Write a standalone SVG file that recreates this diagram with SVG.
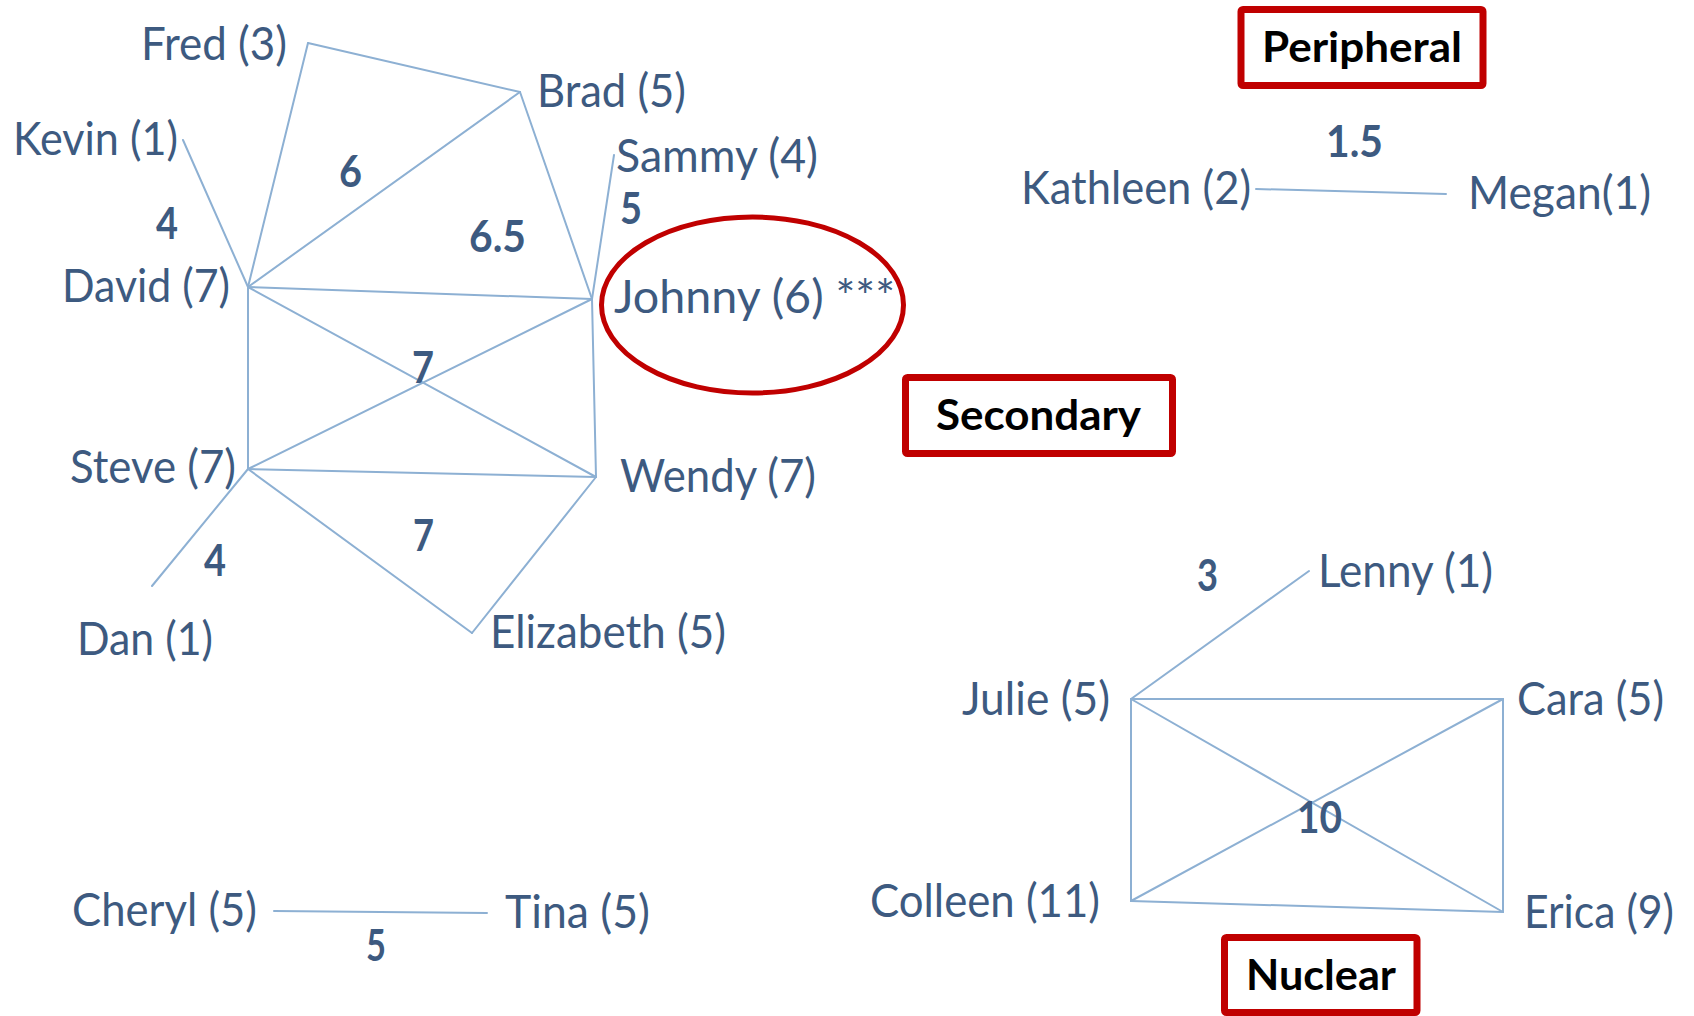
<svg xmlns="http://www.w3.org/2000/svg" width="1694" height="1016" viewBox="0 0 1694 1016">
<style>
  .bg{fill:#ffffff}
  .edge{stroke:#8DB0D3;stroke-width:2;fill:none;stroke-linecap:round}
  .name{font-family:Lato,"Open Sans","Liberation Sans",sans-serif;font-size:46px;fill:#3D5A80}
  .w{font-family:Lato,"Open Sans","Liberation Sans",sans-serif;font-size:43px;font-weight:bold;fill:#3D5A80}
  .tag{font-family:Lato,"Open Sans","Liberation Sans",sans-serif;font-size:42px;font-weight:bold;fill:#000000}
  .box{fill:none;stroke:#C00000;stroke-width:7}
  .ring{fill:none;stroke:#C00000;stroke-width:5}
</style>
<rect class="bg" x="0" y="0" width="1694" height="1016"/>

<g id="connectors">
  <line class="edge" x1="308" y1="43" x2="520" y2="92"/>
  <line class="edge" x1="308" y1="43" x2="248" y2="287"/>
  <line class="edge" x1="183" y1="140" x2="248" y2="287"/>
  <line class="edge" x1="248" y1="287" x2="520" y2="92"/>
  <line class="edge" x1="520" y1="92" x2="592" y2="299"/>
  <line class="edge" x1="614" y1="155" x2="592" y2="299"/>
  <line class="edge" x1="248" y1="287" x2="592" y2="299"/>
  <line class="edge" x1="248" y1="287" x2="596" y2="477"/>
  <line class="edge" x1="248" y1="287" x2="248" y2="469"/>
  <line class="edge" x1="592" y1="299" x2="248" y2="469"/>
  <line class="edge" x1="592" y1="299" x2="596" y2="477"/>
  <line class="edge" x1="248" y1="469" x2="596" y2="477"/>
  <line class="edge" x1="248" y1="469" x2="152" y2="586"/>
  <line class="edge" x1="248" y1="469" x2="472" y2="633"/>
  <line class="edge" x1="596" y1="477" x2="472" y2="633"/>
  <line class="edge" x1="274" y1="911" x2="487" y2="913"/>
  <line class="edge" x1="1256" y1="189" x2="1446" y2="194"/>
  <line class="edge" x1="1309" y1="571" x2="1131" y2="699"/>
  <line class="edge" x1="1131" y1="699" x2="1503" y2="699"/>
  <line class="edge" x1="1131" y1="699" x2="1131" y2="901"/>
  <line class="edge" x1="1131" y1="699" x2="1503" y2="912"/>
  <line class="edge" x1="1503" y1="699" x2="1131" y2="901"/>
  <line class="edge" x1="1503" y1="699" x2="1503" y2="912"/>
  <line class="edge" x1="1131" y1="901" x2="1503" y2="912"/>
</g>

<g id="weights">
  <text class="w" x="339" y="187" textLength="23" lengthAdjust="spacingAndGlyphs">6</text>
  <text class="w" x="156" y="239" textLength="22" lengthAdjust="spacingAndGlyphs">4</text>
  <text class="w" x="469" y="252" textLength="57" lengthAdjust="spacingAndGlyphs">6.5</text>
  <text class="w" x="620" y="224" textLength="22" lengthAdjust="spacingAndGlyphs">5</text>
  <text class="w" x="412" y="383" textLength="22" lengthAdjust="spacingAndGlyphs">7</text>
  <text class="w" x="413" y="551" textLength="21" lengthAdjust="spacingAndGlyphs">7</text>
  <text class="w" x="204" y="576" textLength="22" lengthAdjust="spacingAndGlyphs">4</text>
  <text class="w" x="366" y="961" textLength="20" lengthAdjust="spacingAndGlyphs">5</text>
  <text class="w" x="1326" y="157" textLength="57" lengthAdjust="spacingAndGlyphs">1.5</text>
  <text class="w" x="1197" y="591" textLength="21" lengthAdjust="spacingAndGlyphs">3</text>
  <text class="w" x="1297" y="833" textLength="45" lengthAdjust="spacingAndGlyphs">10</text>
</g>

<g id="node-fred"><text class="name" x="141" y="60" textLength="146" lengthAdjust="spacingAndGlyphs">Fred (3)</text></g>
<g id="node-brad"><text class="name" x="537" y="107" textLength="149" lengthAdjust="spacingAndGlyphs">Brad (5)</text></g>
<g id="node-kevin"><text class="name" x="13" y="155" textLength="165" lengthAdjust="spacingAndGlyphs">Kevin (1)</text></g>
<g id="node-sammy"><text class="name" x="616" y="172" textLength="202" lengthAdjust="spacingAndGlyphs">Sammy (4)</text></g>
<g id="node-david"><text class="name" x="62" y="302" textLength="168" lengthAdjust="spacingAndGlyphs">David (7)</text></g>
<g id="node-johnny">
  <ellipse class="ring" cx="752.5" cy="305" rx="151" ry="88"/>
  <text class="name" x="614" y="313" textLength="281" lengthAdjust="spacingAndGlyphs">Johnny (6) ***</text>
</g>
<g id="node-steve"><text class="name" x="70" y="483" textLength="166" lengthAdjust="spacingAndGlyphs">Steve (7)</text></g>
<g id="node-wendy"><text class="name" x="620" y="492" textLength="196" lengthAdjust="spacingAndGlyphs">Wendy (7)</text></g>
<g id="node-dan"><text class="name" x="77" y="655" textLength="136" lengthAdjust="spacingAndGlyphs">Dan (1)</text></g>
<g id="node-elizabeth"><text class="name" x="490" y="648" textLength="236" lengthAdjust="spacingAndGlyphs">Elizabeth (5)</text></g>
<g id="node-cheryl"><text class="name" x="72" y="926" textLength="185" lengthAdjust="spacingAndGlyphs">Cheryl (5)</text></g>
<g id="node-tina"><text class="name" x="505" y="928" textLength="145" lengthAdjust="spacingAndGlyphs">Tina (5)</text></g>
<g id="node-kathleen"><text class="name" x="1021" y="204" textLength="230" lengthAdjust="spacingAndGlyphs">Kathleen (2)</text></g>
<g id="node-megan"><text class="name" x="1468" y="209" textLength="183" lengthAdjust="spacingAndGlyphs">Megan(1)</text></g>
<g id="node-lenny"><text class="name" x="1318" y="587" textLength="175" lengthAdjust="spacingAndGlyphs">Lenny (1)</text></g>
<g id="node-julie"><text class="name" x="962" y="715" textLength="148" lengthAdjust="spacingAndGlyphs">Julie (5)</text></g>
<g id="node-cara"><text class="name" x="1517" y="715" textLength="147" lengthAdjust="spacingAndGlyphs">Cara (5)</text></g>
<g id="node-colleen"><text class="name" x="870" y="917" textLength="230" lengthAdjust="spacingAndGlyphs">Colleen (11)</text></g>
<g id="node-erica"><text class="name" x="1524" y="928" textLength="150" lengthAdjust="spacingAndGlyphs">Erica (9)</text></g>

<g id="label-peripheral">
  <rect class="box" x="1241" y="9.5" width="242" height="76" rx="2"/>
  <text class="tag" x="1262" y="62" textLength="200" lengthAdjust="spacingAndGlyphs">Peripheral</text>
</g>
<g id="label-secondary">
  <rect class="box" x="905.5" y="377.5" width="267" height="76" rx="2"/>
  <text class="tag" x="936" y="430" textLength="205" lengthAdjust="spacingAndGlyphs">Secondary</text>
</g>
<g id="label-nuclear">
  <rect class="box" x="1224.5" y="937.5" width="192.5" height="75" rx="2"/>
  <text class="tag" x="1246" y="990" textLength="150" lengthAdjust="spacingAndGlyphs">Nuclear</text>
</g>
</svg>
